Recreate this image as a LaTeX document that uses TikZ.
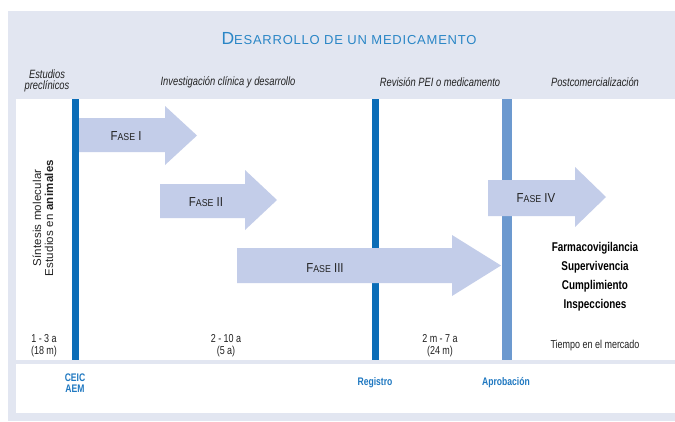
\documentclass[tikz,border=0pt]{standalone}
\usepackage{fontspec}
\setmainfont{Liberation Sans}[FakeStretch=0.78]
\newfontfamily\titlefont{Liberation Sans}[LetterSpace=6]
\newfontfamily\rotfont{Liberation Sans}[LetterSpace=2]
\newfontfamily\fasefont{Liberation Sans}[FakeStretch=0.88]
\definecolor{bgc}{HTML}{E2E6F1}
\definecolor{arrowc}{HTML}{C3CDE9}
\definecolor{bardark}{HTML}{0B6DB7}
\definecolor{barlight}{HTML}{6C99CF}
\definecolor{titleblue}{HTML}{2A86C6}
\definecolor{labelblue}{HTML}{1F78C1}
\definecolor{txt}{HTML}{222222}
\newcommand\fasetext[1]{{\fasefont\fontsize{13}{13}\selectfont F\fontsize{10}{10}\selectfont ASE\fontsize{13}{13}\selectfont\ #1}}
\begin{document}
\begin{tikzpicture}[x=1pt,y=-1pt,
  hdr/.style={font=\itshape\fontsize{12}{12}\selectfont, text=txt, align=center, inner sep=0pt},
  dur/.style={font=\fontsize{11.5}{12}\selectfont, text=txt, align=center, inner sep=0pt},
  milestone/.style={font=\bfseries\fontsize{11}{11.5}\selectfont, text=labelblue, align=center, inner sep=0pt},
  post/.style={font=\bfseries\fontsize{12.7}{12.7}\selectfont, text=black, inner sep=0pt},
  fase/.style={text=txt, inner sep=0pt},
  arrowshape/.style={fill=arrowc}]
\useasboundingbox (0,0) rectangle (675,421);
\fill[white] (0,0) rectangle (675,421);
\fill[bgc] (8,11) rectangle (675,421);
\fill[white] (16,99) rectangle (675,360);
\fill[white] (16,364) rectangle (675,413);
% bars
\fill[bardark] (72,99) rectangle (79,360);
\fill[bardark] (372,99) rectangle (379,360);
\fill[barlight] (502,99) rectangle (512,360);
% arrows
\fill[arrowshape] (79,118) -- (165,118) -- (165,106) -- (197,135.5) -- (165,165) -- (165,152) -- (79,152) -- cycle;
\fill[arrowshape] (160,184) -- (245,184) -- (245,170) -- (277,200) -- (245,230) -- (245,218) -- (160,218) -- cycle;
\fill[arrowshape] (237,248) -- (452,248) -- (452,235) -- (501,265.5) -- (452,296) -- (452,283) -- (237,283) -- cycle;
\fill[arrowshape] (488,180) -- (575,180) -- (575,167) -- (606,197) -- (575,227) -- (575,216) -- (488,216) -- cycle;
% title
\node[inner sep=0pt] (title) at (349,39) {\titlefont\color{titleblue}{\fontsize{17.5}{18}\selectfont D}{\fontsize{13}{14}\selectfont ESARROLLO DE UN MEDICAMENTO}};
% headers
\node[hdr] (h1) at (47,81) {Estudios\\[-1pt]preclínicos};
\node[hdr] (h2) at (228,82) {Investigación clínica y desarrollo};
\node[hdr] (h3) at (440,82) {Revisión PEI o medicamento};
\node[hdr] (h4) at (595,82) {Postcomercialización};
% rotated
\node[rotate=90, align=center, inner sep=0pt, text=txt, font=\rotfont\fontsize{11.5}{12}\selectfont] (precl) at (43,218) {Síntesis molecular\\Estudios en \textbf{animales}};
% fase labels
\node[fase] (f1) at (126,136) {\fasetext{I}};
\node[fase] (f2) at (206,202) {\fasetext{II}};
\node[fase] (f3) at (325,268) {\fasetext{III}};
\node[fase] (f4) at (536,198) {\fasetext{IV}};
% postcomercial list
\node[post] (p1) at (595,248) {Farmacovigilancia};
\node[post] (p2) at (595,267) {Supervivencia};
\node[post] (p3) at (595,286) {Cumplimiento};
\node[post] (p4) at (595,305) {Inspecciones};
% durations
\node[dur] (d1) at (44,346) {1 - 3 a\\(18 m)};
\node[dur] (d2) at (226,346) {2 - 10 a\\(5 a)};
\node[dur] (d3) at (440,346) {2 m - 7 a\\(24 m)};
\node[dur] (d4) at (595,346) {Tiempo en el mercado};
% milestones
\node[milestone] (m1) at (75,383) {CEIC\\AEM};
\node[milestone] (m2) at (375,383) {Registro};
\node[milestone] (m3) at (506,383) {Aprobación};
\end{tikzpicture}
\end{document}
